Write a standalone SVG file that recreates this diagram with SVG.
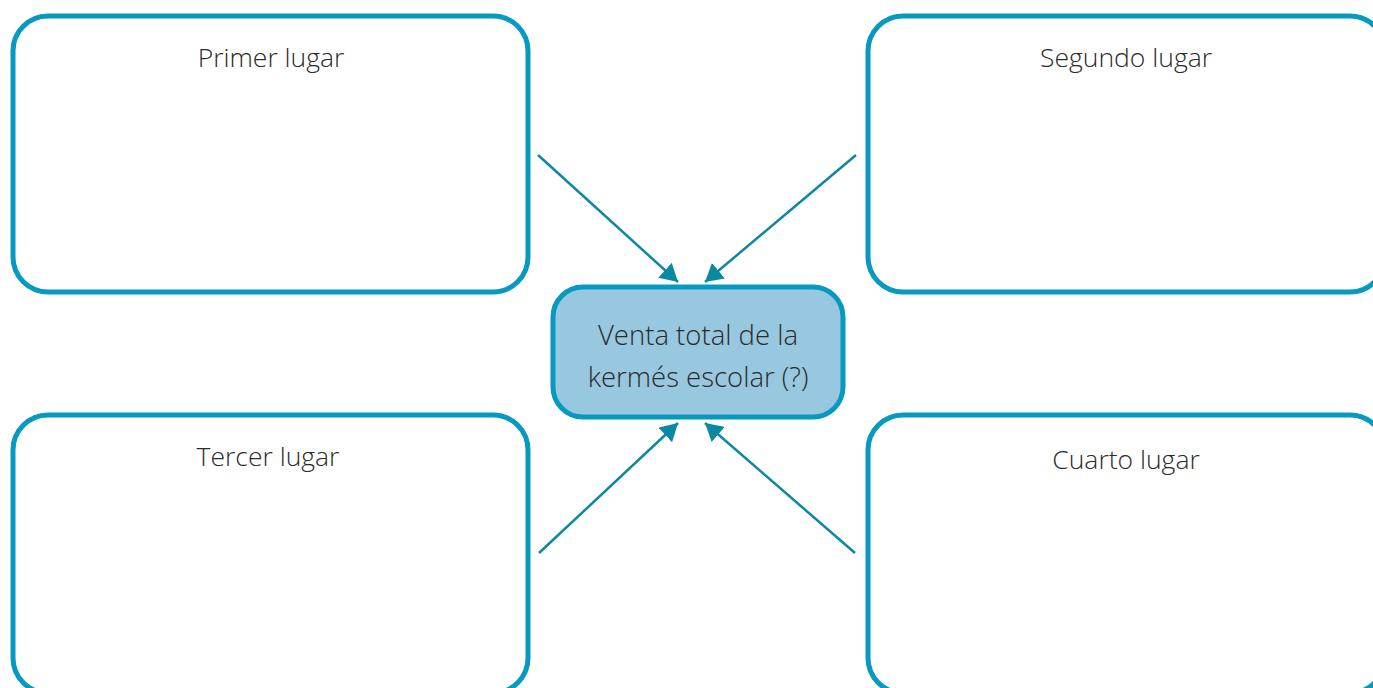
<svg xmlns="http://www.w3.org/2000/svg" width="1373" height="688" viewBox="0 0 1373 688">
<style>
.box{fill:#ffffff;stroke:#0799bf;stroke-width:5}
.center{fill:#97c8df;stroke:#0799bf;stroke-width:5}
.lbl{font-family:"Open Sans","Liberation Sans",sans-serif;font-weight:300;font-size:26.5px;fill:#2b2b2b;text-anchor:middle}
.big{font-size:27.5px}
.conn{stroke:#0b88a3;stroke-width:2.5;fill:none}
</style>
<defs>
<marker id="ah" markerWidth="8" markerHeight="8" refX="7" refY="4" orient="auto" markerUnits="strokeWidth">
<path d="M0,0 L7,4 L0,8 Z" fill="#0b88a3"/>
</marker>
</defs>
<rect width="1373" height="688" fill="#ffffff"/>
<g id="primer">
<rect class="box" x="13" y="16" width="515" height="276" rx="35"/>
<text class="lbl" x="271" y="67">Primer lugar</text>
</g>
<g id="segundo">
<rect class="box" x="868" y="16" width="517" height="276" rx="35"/>
<text class="lbl" x="1126" y="67">Segundo lugar</text>
</g>
<g id="tercer">
<rect class="box" x="13" y="415" width="515" height="278" rx="35"/>
<text class="lbl" x="268" y="466">Tercer lugar</text>
</g>
<g id="cuarto">
<rect class="box" x="868" y="415" width="517" height="278" rx="35"/>
<text class="lbl" x="1126" y="469">Cuarto lugar</text>
</g>
<g id="venta">
<rect class="center" x="553" y="287" width="290" height="130" rx="30"/>
<text class="lbl big" x="698" y="345">Venta total de la</text>
<text class="lbl big" x="698" y="387">kermés escolar (?)</text>
</g>
<g id="connectors">
<line class="conn" x1="538" y1="155" x2="678" y2="282" marker-end="url(#ah)"/>
<line class="conn" x1="856" y1="155" x2="705" y2="282" marker-end="url(#ah)"/>
<line class="conn" x1="539" y1="553" x2="678" y2="423" marker-end="url(#ah)"/>
<line class="conn" x1="855" y1="553" x2="705" y2="423" marker-end="url(#ah)"/>
</g>
</svg>
